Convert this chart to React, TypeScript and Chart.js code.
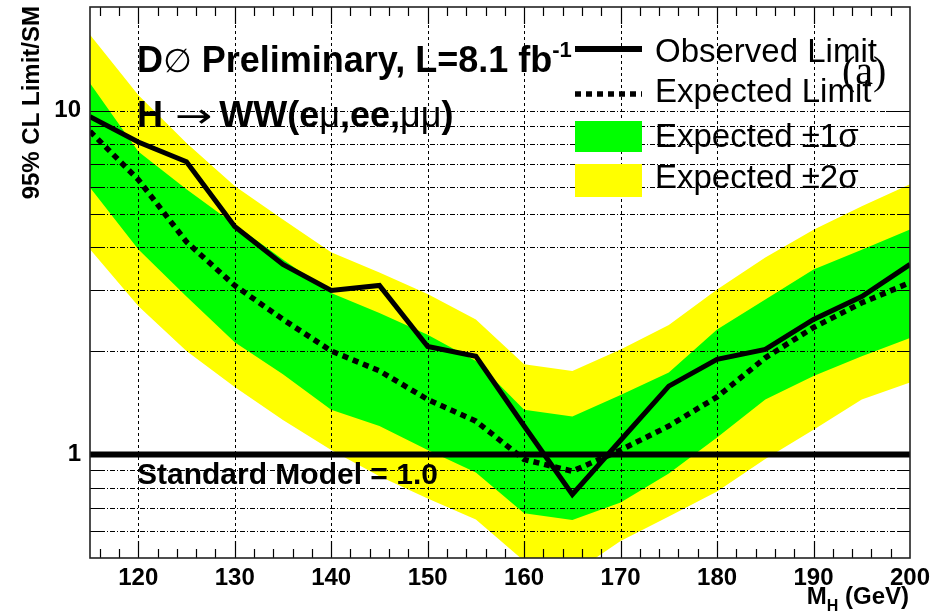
import React, { useEffect, useRef } from 'react';
import { Chart, registerables } from 'chart.js';

Chart.register(...registerables);

// ---------------- data ----------------
const massPoints = [115, 120, 125, 130, 135, 140, 145, 150, 155, 160, 165, 170, 175, 180, 185, 190, 195, 200];
const observedLimit = [9.6, 8.1, 7.1, 4.6, 3.57, 3.0, 3.1, 2.06, 1.93, 1.21, 0.765, 1.1, 1.58, 1.89, 2.02, 2.47, 2.88, 3.57];
const expectedLimit = [8.7, 6.3, 4.15, 3.1, 2.47, 2.0, 1.75, 1.445, 1.25, 0.967, 0.894, 1.03, 1.21, 1.47, 1.91, 2.34, 2.76, 3.16];
const expPlus1Sigma = [12.0, 7.6, 5.9, 4.66, 3.69, 2.95, 2.58, 2.23, 1.87, 1.35, 1.29, 1.49, 1.73, 2.31, 2.82, 3.45, 3.94, 4.51];
const expMinus1Sigma = [5.97, 3.95, 2.88, 2.12, 1.71, 1.35, 1.21, 1.03, 0.886, 0.675, 0.645, 0.725, 0.88, 1.12, 1.445, 1.69, 1.93, 2.18];
const expPlus2Sigma = [16.6, 11.1, 8.05, 6.03, 4.82, 3.87, 3.38, 2.93, 2.47, 1.83, 1.75, 2.02, 2.38, 3.02, 3.74, 4.5, 5.27, 6.1];
const expMinus2Sigma = [3.95, 2.7, 2.0, 1.57, 1.26, 1.03, 0.865, 0.745, 0.647, 0.49, 0.45, 0.56, 0.66, 0.78, 0.97, 1.18, 1.445, 1.62];
const smMass = [115, 200];
const smValue = [1.0, 1.0];
const xTickValues = [120, 130, 140, 150, 160, 170, 180, 190, 200];
const yTickValues = [1, 10];
const legendLabels = ['Observed Limit', 'Expected Limit', 'Expected \u00B11\u03C3', 'Expected \u00B12\u03C3'];
const yAxisTitle = '95% CL Limit/SM';

const X_MIN = 115;
const X_MAX = 200;
const Y_MIN = 0.5;
const Y_MAX = 20;

const SANS = '"Liberation Sans", Arial, Helvetica, sans-serif';
const SYM = '"DejaVu Sans", sans-serif';
const SERIF = '"Liberation Serif", "Times New Roman", serif';
const YELLOW = '#ffff00';
const GREEN = '#00ff00';

const pts = (xs: number[], ys: number[]) => xs.map((m, i) => ({ x: m, y: ys[i] }));

type Seg = { t: string; f: string; dy?: number; sx?: number; pre?: number };
function drawSegs(ctx: CanvasRenderingContext2D, x: number, y: number, segs: Seg[]) {
  let cx = x;
  for (const s of segs) {
    ctx.font = s.f;
    cx += s.pre || 0;
    const sx = s.sx || 1;
    const w = ctx.measureText(s.t).width * sx;
    if (sx !== 1) {
      ctx.save();
      ctx.translate(cx, y + (s.dy || 0));
      ctx.scale(sx, 1);
      ctx.fillText(s.t, 0, 0);
      ctx.restore();
    } else {
      ctx.fillText(s.t, cx, y + (s.dy || 0));
    }
    cx += w;
  }
  return cx;
}
function segsWidth(ctx: CanvasRenderingContext2D, segs: Seg[]) {
  let w = 0;
  for (const s of segs) {
    ctx.font = s.f;
    w += ctx.measureText(s.t).width * (s.sx || 1) + (s.pre || 0);
  }
  return w;
}

const decorPlugin = {
  id: 'decor',
  afterDatasetsDraw(chart: any) {
    const { ctx, chartArea: a } = chart;
    const xs = chart.scales.x;
    const ys = chart.scales.y;
    ctx.save();
    ctx.strokeStyle = '#000';
    ctx.lineWidth = 1;
    // vertical grid
    ctx.setLineDash([3, 3]);
    for (let v = 120; v < X_MAX; v += 10) {
      const px = Math.round(xs.getPixelForValue(v)) + 0.5;
      ctx.beginPath();
      ctx.moveTo(px, a.top);
      ctx.lineTo(px, a.bottom);
      ctx.stroke();
    }
    // horizontal grid (log minors)
    ctx.setLineDash([5, 2, 1, 2]);
    const yMinor: number[] = [];
    for (const dec of [0.1, 1, 10]) {
      for (let k = 1; k <= 9; k++) {
        const v = k * dec;
        if (v > Y_MIN * 1.001 && v < Y_MAX * 0.999) yMinor.push(v);
      }
    }
    for (const v of yMinor) {
      const py = Math.round(ys.getPixelForValue(v)) + 0.5;
      ctx.beginPath();
      ctx.moveTo(a.left, py);
      ctx.lineTo(a.right, py);
      ctx.stroke();
    }
    ctx.setLineDash([]);
    // x ticks (bottom and top)
    ctx.lineWidth = 1.2;
    for (let v = 116; v < X_MAX; v += 2) {
      const major = v % 10 === 0;
      const len = major ? 17 : 9;
      const px = Math.round(xs.getPixelForValue(v)) + 0.5;
      ctx.beginPath();
      ctx.moveTo(px, a.bottom);
      ctx.lineTo(px, a.bottom - len);
      ctx.moveTo(px, a.top);
      ctx.lineTo(px, a.top + len);
      ctx.stroke();
    }
    // y ticks (left and right)
    for (const v of yMinor) {
      const major = Math.abs(v - 1) < 1e-9 || Math.abs(v - 10) < 1e-9;
      const len = major ? 24 : 12;
      const py = Math.round(ys.getPixelForValue(v)) + 0.5;
      ctx.beginPath();
      ctx.moveTo(a.left, py);
      ctx.lineTo(a.left + len, py);
      ctx.moveTo(a.right, py);
      ctx.lineTo(a.right - len, py);
      ctx.stroke();
    }
    // frame
    ctx.lineWidth = 1.6;
    ctx.strokeStyle = '#222';
    ctx.strokeRect(a.left, a.top, a.right - a.left, a.bottom - a.top);
    ctx.restore();
  },
  afterDraw(chart: any) {
    const { ctx } = chart;
    ctx.save();
    ctx.fillStyle = '#000';
    ctx.textBaseline = 'alphabetic';
    ctx.textAlign = 'left';

    const B35 = `bold 36px ${SANS}`;
    const N35 = `36px ${SANS}`;
    const S35 = `33px ${SYM}`;
    // Title line 1
    const end1 = drawSegs(ctx, 137, 72, [
      { t: 'D', f: B35 },
      { t: '\u2205', f: S35 },
      { t: ' Preliminary, L=8.1 fb', f: B35 },
    ]);
    drawSegs(ctx, end1, 57, [{ t: '-1', f: `bold 22px ${SANS}` }]);
    // Title line 2
    drawSegs(ctx, 137, 127, [
      { t: 'H', f: B35 },
      { t: '\u2192', f: S35, sx: 1.35, pre: 12 },
      { t: 'WW(e', f: B35, pre: 7 },
      { t: '\u03BC', f: N35 },
      { t: ',ee,', f: B35 },
      { t: '\u03BC\u03BC', f: N35 },
      { t: ')', f: B35 },
    ]);

    // Standard model label
    ctx.font = `bold 30px ${SANS}`;
    ctx.fillText('Standard Model = 1.0', 137, 484);

    // Legend
    const lx0 = 575;
    const lx1 = 642;
    ctx.fillStyle = GREEN;
    ctx.fillRect(lx0, 121, lx1 - lx0, 31);
    ctx.fillStyle = YELLOW;
    ctx.fillRect(lx0, 164, lx1 - lx0, 33);
    ctx.strokeStyle = '#000';
    ctx.lineWidth = 6;
    ctx.beginPath();
    ctx.moveTo(lx0, 49);
    ctx.lineTo(lx1, 49);
    ctx.stroke();
    ctx.setLineDash([6, 5]);
    ctx.lineWidth = 5.5;
    ctx.beginPath();
    ctx.moveTo(lx0, 94);
    ctx.lineTo(lx1, 94);
    ctx.stroke();
    ctx.setLineDash([]);
    ctx.fillStyle = '#000';
    ctx.font = `33px ${SANS}`;
    const baselines = [62, 102, 147, 188];
    legendLabels.forEach((lab, i) => ctx.fillText(lab, 655, baselines[i]));

    // (a)
    ctx.font = `40px ${SERIF}`;
    ctx.fillText('(a)', 842, 84);

    // x axis title with subscript
    const xt: Seg[] = [
      { t: 'M', f: `bold 24px ${SANS}` },
      { t: 'H', f: `bold 16px ${SANS}`, dy: 7 },
      { t: ' (GeV)', f: `bold 24px ${SANS}` },
    ];
    const w = segsWidth(ctx, xt);
    drawSegs(ctx, 909 - w, 604, xt);

    // y axis title (rotated, aligned to the top end)
    ctx.save();
    ctx.translate(32, 6);
    ctx.rotate(-Math.PI / 2);
    ctx.textAlign = 'right';
    ctx.textBaseline = 'middle';
    ctx.font = `bold 24px ${SANS}`;
    ctx.fillText(yAxisTitle, 0, 0);
    ctx.restore();

    ctx.restore();
  },
};

export default function App() {
  const ref = useRef<HTMLCanvasElement | null>(null);
  useEffect(() => {
    if (!ref.current) return;
    const line = (data: any, extra: any) => ({
      data,
      pointRadius: 0,
      tension: 0,
      ...extra,
    });
    const chart = new Chart(ref.current, {
      type: 'line',
      data: {
        datasets: [
          line(pts(massPoints, expPlus2Sigma), { label: 'Expected +2σ', fill: 1, backgroundColor: YELLOW, borderColor: 'rgba(0,0,0,0)', borderWidth: 0, order: 10 }),
          line(pts(massPoints, expMinus2Sigma), { label: 'Expected -2σ', fill: false, borderColor: 'rgba(0,0,0,0)', borderWidth: 0, order: 10 }),
          line(pts(massPoints, expPlus1Sigma), { label: 'Expected +1σ', fill: 3, backgroundColor: GREEN, borderColor: 'rgba(0,0,0,0)', borderWidth: 0, order: 8 }),
          line(pts(massPoints, expMinus1Sigma), { label: 'Expected -1σ', fill: false, borderColor: 'rgba(0,0,0,0)', borderWidth: 0, order: 8 }),
          line(pts(massPoints, expectedLimit), { label: 'Expected Limit', fill: false, borderColor: '#000', borderWidth: 5.5, borderDash: [6, 5], borderCapStyle: 'butt', order: 3 }),
          line(pts(massPoints, observedLimit), { label: 'Observed Limit', fill: false, borderColor: '#000', borderWidth: 5, borderJoinStyle: 'miter', order: 2 }),
          line(pts(smMass, smValue), { label: 'Standard Model', fill: false, borderColor: '#000', borderWidth: 6, order: 1 }),
        ],
      },
      options: {
        animation: false,
        responsive: false,
        events: [],
        layout: { padding: { top: 7, right: 29, left: 0, bottom: 0 } },
        plugins: {
          legend: { display: false },
          tooltip: { enabled: false },
          filler: { propagate: false },
        },
        scales: {
          x: {
            type: 'linear',
            min: X_MIN,
            max: X_MAX,
            grid: { display: false, drawTicks: false },
            border: { display: false },
            afterBuildTicks: (s: any) => {
              s.ticks = xTickValues.map((v) => ({ value: v }));
            },
            afterFit: (s: any) => {
              s.height = 57;
              s.paddingLeft = 0;
              s.paddingRight = 0;
            },
            ticks: {
              autoSkip: false,
              maxRotation: 0,
              padding: 6,
              color: '#000',
              font: { family: SANS, size: 24, weight: 'bold' },
              callback: (v: any) => String(v),
            },
          },
          y: {
            type: 'logarithmic',
            min: Y_MIN,
            max: Y_MAX,
            grid: { display: false, drawTicks: false },
            border: { display: false },
            afterBuildTicks: (s: any) => {
              s.ticks = yTickValues.map((v) => ({ value: v }));
            },
            afterFit: (s: any) => {
              s.width = 90;
              s.paddingTop = 0;
              s.paddingBottom = 0;
            },
            ticks: {
              autoSkip: false,
              padding: 9,
              color: '#000',
              font: { family: SANS, size: 24, weight: 'bold' },
              callback: (v: any) => String(v),
            },
          },
        },
      },
      plugins: [decorPlugin],
    } as any);
    return () => chart.destroy();
  }, []);

  return (
    <div style={{ position: 'fixed', left: 0, top: 0, width: 939, height: 615, background: '#fff' }}>
      <canvas ref={ref} width={939} height={615} style={{ display: 'block' }} />
    </div>
  );
}
